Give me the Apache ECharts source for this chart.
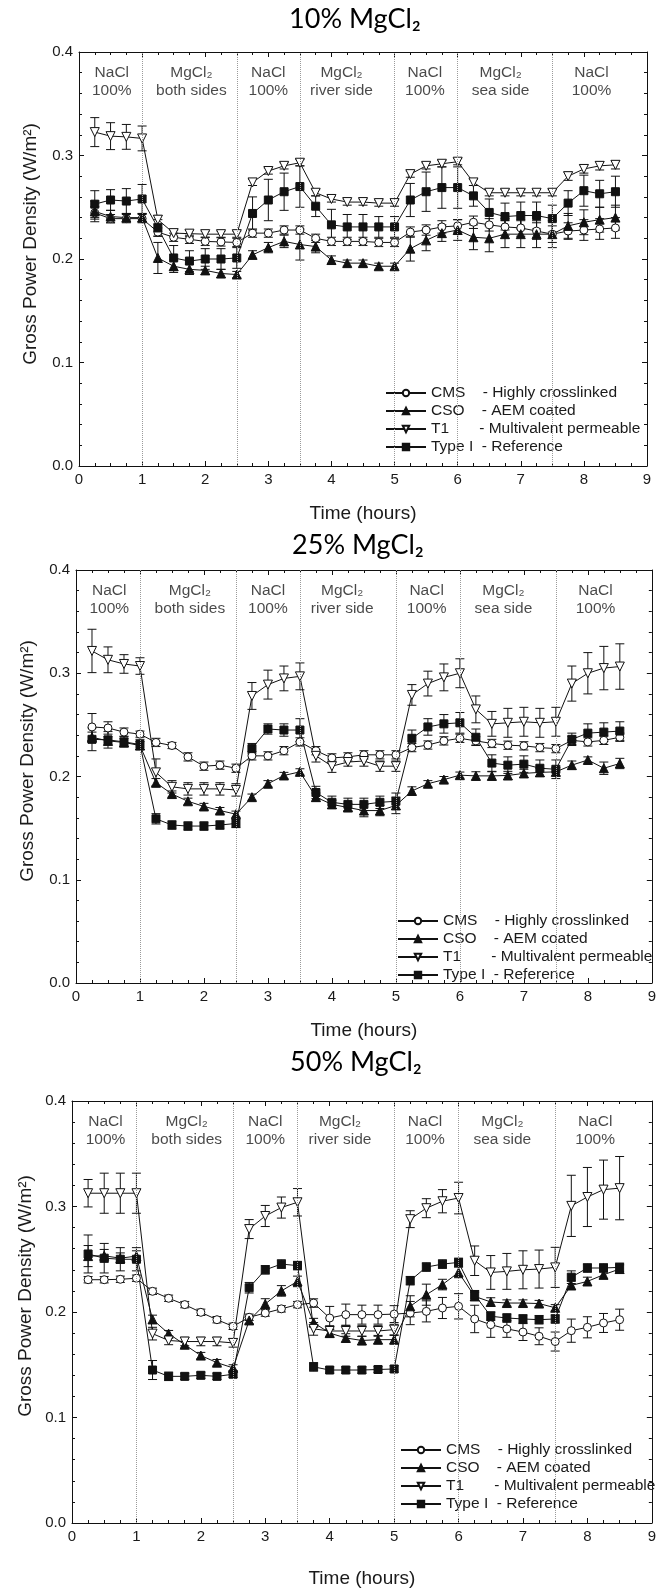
<!DOCTYPE html>
<html><head><meta charset="utf-8">
<script src="https://cdn.jsdelivr.net/npm/echarts@6/dist/echarts.min.js"></script>
<style>html,body{margin:0;padding:0;background:#fff}#c{width:659px;height:1589px}</style>
</head><body><div id="c"></div>
<script>
// ---------- data ----------
const times = [0.25,0.5,0.75,1.0,1.25,1.5,1.75,2.0,2.25,2.5,2.75,3.0,3.25,3.5,3.75,4.0,4.25,4.5,4.75,5.0,5.25,5.5,5.75,6.0,6.25,6.5,6.75,7.0,7.25,7.5,7.75,8.0,8.25,8.5];
const panelTitles = ['10% MgCl₂','25% MgCl₂','50% MgCl₂'];
const seriesNames = ['CMS','CSO','T1','Type I'];
const legendLabels = ['CMS    - Highly crosslinked','CSO    - AEM coated','T1       - Multivalent permeable','Type I  - Reference'];
const regionX = [0.52,1.78,3.0,4.16,5.48,6.68,8.12];
const regionLine1 = ['NaCl','MgCl₂','NaCl','MgCl₂','NaCl','MgCl₂','NaCl'];
const regionLine2 = ['100%','both sides','100%','river side','100%','sea side','100%'];
const phaseBoundaries = [1,2.5,3.5,5,6,7.5];
const xMin = 0, xMax = 9, xStep = 1;
const yMin = 0, yMax = 0.4, yStep = 0.1;

// 10% MgCl2
const cms10 = [0.2445,0.239,0.239,0.239, 0.226,0.221,0.219,0.217,0.2165,0.216, 0.225,0.225,0.228,0.228, 0.220,0.217,0.217,0.217,0.216,0.216, 0.226,0.228,0.231,0.232, 0.2355,0.233,0.231,0.230,0.227,0.224, 0.227,0.228,0.229,0.230];
const cso10 = [0.246,0.241,0.240,0.240, 0.201,0.193,0.190,0.189,0.186,0.185, 0.204,0.211,0.217,0.214, 0.212,0.199,0.196,0.196,0.193,0.193, 0.210,0.218,0.225,0.228, 0.221,0.220,0.224,0.224,0.224,0.224, 0.232,0.2355,0.238,0.240];
const t1_10 = [0.3226,0.3187,0.318,0.3165, 0.238,0.225,0.2245,0.224,0.224,0.224, 0.274,0.285,0.290,0.293, 0.264,0.258,0.255,0.255,0.254,0.254, 0.282,0.290,0.292,0.294, 0.274,0.264,0.264,0.264,0.264,0.264, 0.280,0.287,0.290,0.291];
const typ10 = [0.253,0.257,0.256,0.258, 0.230,0.201,0.198,0.200,0.200,0.201, 0.244,0.257,0.265,0.270, 0.251,0.233,0.231,0.231,0.231,0.231, 0.257,0.265,0.269,0.269, 0.261,0.245,0.241,0.242,0.242,0.239, 0.254,0.266,0.263,0.265];
const cms10e = [0.006,0.004,0.004,0.004, 0.004,0.004,0.004,0.004,0.004,0.004, 0.004,0.004,0.004,0.004, 0.004,0.004,0.004,0.004,0.004,0.004, 0.005,0.005,0.006,0.006, 0.006,0.006,0.008,0.008,0.008,0.008, 0.008,0.010,0.010,0.010];
const cso10e = [0.010,0.006,0.004,0.004, 0.015,0.006,0.005,0.004,0.004,0.003, 0.004,0.005,0.006,0.015, 0.006,0.004,0.003,0.003,0.003,0.003, 0.012,0.010,0.008,0.010, 0.012,0.013,0.013,0.013,0.013,0.013, 0.012,0.012,0.012,0.012];
const t1_10e = [0.014,0.013,0.012,0.012, 0.004,0.003,0.003,0.003,0.003,0.003, 0.003,0.003,0.003,0.003, 0.003,0.003,0.003,0.003,0.003,0.003, 0.003,0.003,0.003,0.003, 0.003,0.003,0.003,0.003,0.003,0.003, 0.004,0.004,0.004,0.004];
const typ10e = [0.013,0.010,0.012,0.014, 0.008,0.012,0.010,0.010,0.010,0.010, 0.016,0.020,0.018,0.020, 0.010,0.015,0.012,0.012,0.010,0.010, 0.016,0.019,0.020,0.020, 0.010,0.013,0.013,0.013,0.013,0.013, 0.012,0.015,0.013,0.015];

// 25% MgCl2
const cms25 = [0.248,0.247,0.243,0.241, 0.233,0.230,0.219,0.210,0.211,0.208, 0.220,0.220,0.225,0.2335, 0.225,0.218,0.219,0.221,0.221,0.221, 0.228,0.2305,0.2345,0.237, 0.2345,0.232,0.2303,0.2297,0.228,0.227, 0.235,0.2335,0.235,0.238];
const cso25 = [0.238,0.2345,0.233,0.230, 0.194,0.183,0.176,0.171,0.167,0.1635, 0.180,0.193,0.201,0.2045, 0.180,0.173,0.170,0.167,0.167,0.172, 0.186,0.193,0.197,0.2013, 0.2006,0.2006,0.201,0.203,0.204,0.2045, 0.211,0.216,0.208,0.2126];
const t1_25 = [0.3216,0.313,0.309,0.307, 0.204,0.190,0.188,0.188,0.188,0.187, 0.278,0.289,0.295,0.297, 0.220,0.210,0.214,0.215,0.210,0.210, 0.279,0.290,0.296,0.300, 0.265,0.251,0.252,0.253,0.252,0.253, 0.290,0.300,0.305,0.3065];
const typ25 = [0.236,0.2355,0.2335,0.231, 0.159,0.153,0.152,0.152,0.153,0.1545, 0.227,0.246,0.245,0.245, 0.1845,0.175,0.173,0.173,0.175,0.176, 0.237,0.248,0.251,0.252, 0.238,0.213,0.211,0.212,0.208,0.207, 0.236,0.242,0.243,0.244];
const cms25e = [0.013,0.006,0.004,0.003, 0.004,0.003,0.004,0.004,0.004,0.004, 0.004,0.004,0.004,0.004, 0.004,0.004,0.004,0.004,0.004,0.004, 0.004,0.004,0.004,0.004, 0.004,0.004,0.004,0.004,0.004,0.004, 0.004,0.004,0.004,0.004];
const cso25e = [0.005,0.004,0.004,0.004, 0.004,0.003,0.003,0.003,0.003,0.003, 0.003,0.003,0.003,0.003, 0.004,0.004,0.004,0.006,0.005,0.008, 0.004,0.003,0.003,0.003, 0.004,0.004,0.004,0.004,0.004,0.004, 0.004,0.003,0.006,0.005];
const t1_25e = [0.021,0.0125,0.009,0.008, 0.013,0.006,0.006,0.006,0.006,0.006, 0.013,0.014,0.012,0.013, 0.006,0.006,0.004,0.005,0.005,0.005, 0.010,0.012,0.013,0.014, 0.013,0.012,0.014,0.014,0.014,0.014, 0.017,0.020,0.021,0.022];
const typ25e = [0.011,0.008,0.005,0.005, 0.005,0.004,0.004,0.004,0.004,0.004, 0.005,0.005,0.006,0.011, 0.006,0.006,0.006,0.006,0.006,0.008, 0.008,0.008,0.009,0.010, 0.008,0.008,0.008,0.008,0.008,0.009, 0.006,0.009,0.009,0.009];

// 50% MgCl2
const cms50 = [0.2306,0.2306,0.231,0.232, 0.2196,0.213,0.207,0.1997,0.1927,0.1864, 0.195,0.199,0.203,0.207, 0.2085,0.1943,0.1975,0.1975,0.1975,0.198, 0.199,0.2006,0.2038,0.2054, 0.1934,0.188,0.184,0.181,0.177,0.172, 0.1823,0.1855,0.1896,0.1927];
const cso50 = [0.253,0.2533,0.251,0.253, 0.193,0.1795,0.169,0.1587,0.152,0.147, 0.192,0.2076,0.220,0.229, 0.190,0.180,0.1754,0.173,0.1738,0.1738, 0.2054,0.2164,0.226,0.2375, 0.2148,0.2095,0.2085,0.2085,0.208,0.204, 0.2252,0.229,0.2353,0.2407];
const t1_50 = [0.3126,0.3126,0.3126,0.3126, 0.1795,0.173,0.172,0.172,0.172,0.1707, 0.2786,0.291,0.299,0.304, 0.184,0.182,0.182,0.182,0.182,0.1833, 0.288,0.2984,0.305,0.308, 0.2486,0.2375,0.2385,0.240,0.2407,0.2423, 0.3006,0.309,0.316,0.3174];
const typ50 = [0.255,0.251,0.250,0.250, 0.145,0.139,0.139,0.140,0.139,0.141, 0.223,0.240,0.2454,0.244, 0.148,0.145,0.145,0.145,0.1455,0.146, 0.2297,0.2426,0.2454,0.247, 0.2164,0.196,0.1943,0.1934,0.1927,0.1934, 0.233,0.2417,0.2417,0.2423];
const cms50e = [0.003,0.003,0.003,0.003, 0.003,0.003,0.003,0.003,0.003,0.003, 0.003,0.003,0.003,0.003, 0.004,0.011,0.010,0.009,0.009,0.008, 0.011,0.010,0.010,0.012, 0.013,0.012,0.008,0.008,0.008,0.009, 0.011,0.010,0.009,0.010];
const cso50e = [0.010,0.006,0.005,0.005, 0.004,0.003,0.003,0.003,0.003,0.003, 0.003,0.005,0.005,0.005, 0.004,0.004,0.004,0.004,0.004,0.004, 0.010,0.010,0.005,0.005, 0.004,0.004,0.003,0.003,0.003,0.003, 0.004,0.004,0.004,0.004];
const t1_50e = [0.013,0.019,0.019,0.019, 0.006,0.004,0.004,0.004,0.004,0.004, 0.009,0.010,0.010,0.013, 0.006,0.005,0.005,0.005,0.005,0.005, 0.008,0.009,0.011,0.015, 0.014,0.016,0.017,0.018,0.018,0.019, 0.029,0.028,0.028,0.030];
const typ50e = [0.018,0.014,0.011,0.011, 0.009,0.004,0.003,0.003,0.003,0.003, 0.005,0.004,0.004,0.004, 0.004,0.003,0.003,0.003,0.003,0.003, 0.004,0.004,0.004,0.004, 0.004,0.004,0.004,0.004,0.004,0.004, 0.006,0.004,0.004,0.004];

const panelValues = [[cms10,cso10,t1_10,typ10],[cms25,cso25,t1_25,typ25],[cms50,cso50,t1_50,typ50]];
const panelErrors = [[cms10e,cso10e,t1_10e,typ10e],[cms25e,cso25e,t1_25e,typ25e],[cms50e,cso50e,t1_50e,typ50e]];

// ---------- layout / style ----------
const INK = '#111';
const TXT = '#1a1a1a';
const FONT = 'Liberation Sans, Arial, sans-serif';
const layout = [
  {grid:{left:79, top:52, width:568, height:414}, titleX:355, titleY:19, yNameX:31, yNameY:244, legend:{left:385, top:385}, nameGap:38},
  {grid:{left:76, top:570, width:578, height:413}, titleX:358, titleY:545, yNameX:28, yNameY:761, legend:{left:397, top:913}, nameGap:38},
  {grid:{left:72, top:1101, width:581, height:423}, titleX:356, titleY:1062, yNameX:26, yNameY:1296, legend:{left:400, top:1442}, nameGap:46}
];
const symbolStyles = [
  {symbol:'circle', symbolSize:8, symbolRotate:0, fill:'#fff'},
  {symbol:'triangle', symbolSize:9, symbolRotate:0, fill:INK},
  {symbol:'triangle', symbolSize:9, symbolRotate:180, fill:'#fff'},
  {symbol:'rect', symbolSize:8, symbolRotate:0, fill:INK}
];

const chart = echarts.init(document.getElementById('c'), null, {renderer:'canvas'});
const grids = [], xAxes = [], yAxes = [], series = [], legends = [], graphics = [];

function axisCommon(showLabel, isX) {
  return {
    axisLine:{show:true, onZero:false, lineStyle:{color:INK, width:1}},
    axisTick:{show:true, inside:true, length:5, lineStyle:{color:INK}},
    minorTick:{show:true, splitNumber: isX ? 4 : 5, length:3, lineStyle:{color:INK}},
    splitLine:{show:false}, minorSplitLine:{show:false},
    axisLabel:{show:showLabel, color:TXT, fontSize:15, fontFamily:FONT, margin:6,
      formatter: isX ? (v => String(v)) : (v => v.toFixed(1))}
  };
}

layout.forEach((L, gi) => {
  grids.push(Object.assign({containLabel:false}, L.grid));
  xAxes.push(Object.assign({type:'value', gridIndex:gi, position:'bottom', min:xMin, max:xMax, interval:xStep,
    name:'Time (hours)', nameLocation:'middle', nameGap:L.nameGap,
    nameTextStyle:{color:TXT, fontSize:19, fontFamily:FONT}}, axisCommon(true, true)));
  xAxes.push(Object.assign({type:'value', gridIndex:gi, position:'top', min:xMin, max:xMax, interval:xStep}, axisCommon(false, true)));
  yAxes.push(Object.assign({type:'value', gridIndex:gi, position:'left', min:yMin, max:yMax, interval:yStep}, axisCommon(true, false)));
  yAxes.push(Object.assign({type:'value', gridIndex:gi, position:'right', min:yMin, max:yMax, interval:yStep}, axisCommon(false, false)));

  const xi = gi*2, yi = gi*2;
  // region labels + phase boundaries
  series.push({
    type:'scatter', xAxisIndex:xi, yAxisIndex:yi, symbolSize:0, silent:true, z:0,
    data: regionX.map((x,i)=>({value:[x, yMax], label:{formatter: regionLine1[i] + '\n' + regionLine2[i]}})),
    label:{show:true, position:'bottom', distance:11, fontSize:15.5, lineHeight:18.5, color:TXT, fontFamily:FONT, align:'center'},
    markLine:{silent:true, symbol:'none', animation:false, label:{show:false},
      lineStyle:{type:'dotted', color:'#9a9a9a', width:1},
      data: phaseBoundaries.map(x=>({xAxis:x}))}
  });
  // error bars
  panelValues[gi].forEach((vals, si) => {
    const errs = panelErrors[gi][si];
    series.push({
      type:'custom', xAxisIndex:xi, yAxisIndex:yi, silent:true, z:1,
      data: times.map((t,i)=>[t, vals[i]-errs[i], vals[i]+errs[i]]),
      encode:{x:0, y:[1,2]},
      renderItem(params, api){
        const x = api.value(0);
        const p1 = api.coord([x, api.value(1)]);
        const p2 = api.coord([x, api.value(2)]);
        const w = 4.5; const st = {stroke:INK, lineWidth:1};
        return {type:'group', children:[
          {type:'line', shape:{x1:p1[0], y1:p1[1], x2:p2[0], y2:p2[1]}, style:st},
          {type:'line', shape:{x1:p1[0]-w, y1:p1[1], x2:p1[0]+w, y2:p1[1]}, style:st},
          {type:'line', shape:{x1:p2[0]-w, y1:p2[1], x2:p2[0]+w, y2:p2[1]}, style:st}
        ]};
      }
    });
  });
  // lines
  panelValues[gi].forEach((vals, si) => {
    const s = symbolStyles[si];
    series.push({
      type:'line', name:seriesNames[si], xAxisIndex:xi, yAxisIndex:yi, z:3,
      data: times.map((t,i)=>[t, vals[i]]),
      symbol:s.symbol, symbolSize:s.symbolSize, symbolRotate:s.symbolRotate, showAllSymbol:true,
      lineStyle:{color:INK, width:1},
      itemStyle:{color:s.fill, borderColor:INK, borderWidth:1},
      emphasis:{disabled:true}, animation:false
    });
  });
  legends.push({
    orient:'vertical', left:L.legend.left, top:L.legend.top, padding:0, data:seriesNames,
    itemWidth:40, itemHeight:8, itemGap:2, selectedMode:false,
    formatter: n => legendLabels[seriesNames.indexOf(n)],
    textStyle:{color:TXT, fontSize:15.5, fontFamily:FONT, lineHeight:16, padding:[0,0,0,0]}
  });
  graphics.push({type:'text', x:L.titleX, y:L.titleY, style:{text:panelTitles[gi], fill:'#000', font:'27px Lato, "Open Sans", sans-serif', textAlign:'center', textVerticalAlign:'middle'}});
  graphics.push({type:'text', x:L.yNameX, y:L.yNameY, rotation:Math.PI/2, style:{text:'Gross Power Density (W/m²)', fill:TXT, font:'19px ' + FONT, textAlign:'center', textVerticalAlign:'middle'}});
});

chart.setOption({
  animation:false, backgroundColor:'#fff',
  grid:grids, xAxis:xAxes, yAxis:yAxes, series:series, legend:legends, graphic:graphics
});
</script></body></html>
